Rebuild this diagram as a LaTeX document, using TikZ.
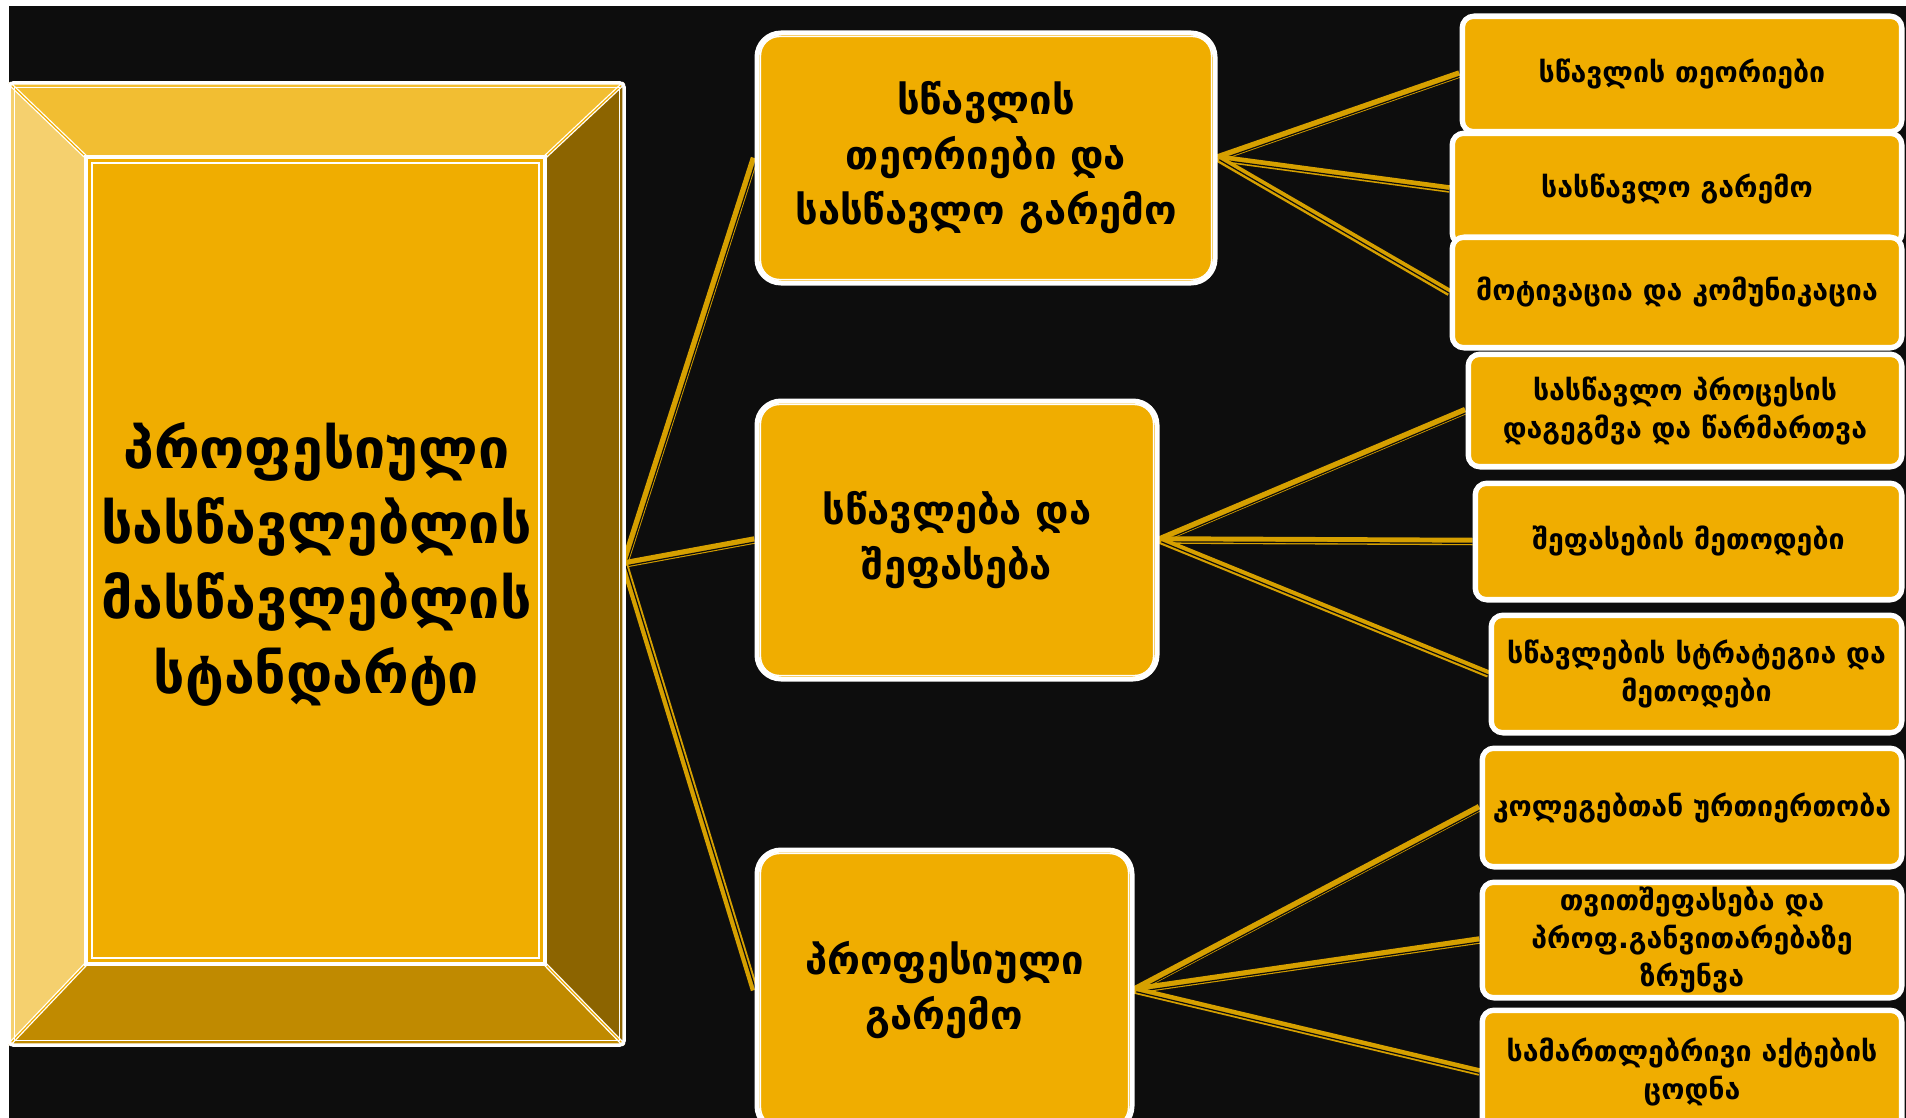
\documentclass[tikz,border=0pt]{standalone}
\usepackage{fontspec}
\setmainfont{DejaVu Sans}
\usetikzlibrary{calc}
\definecolor{bgblack}{HTML}{0D0D0D}
\definecolor{face}{HTML}{F0AD00}
\definecolor{bevtop}{HTML}{F2BE32}
\definecolor{bevleft}{HTML}{F5D06E}
\definecolor{bevright}{HTML}{8C6400}
\definecolor{bevbot}{HTML}{C08A00}
\definecolor{connc}{HTML}{D6A000}
\pgfdeclarelayer{back}
\pgfdeclarelayer{lines}
\pgfsetlayers{back,lines,main}
\tikzset{
  midbox/.style={rounded corners=24pt, fill=face, draw=white, line width=5pt, align=center, inner sep=0pt, font=\bfseries\fontsize{40}{55}\selectfont, text=black},
  smallbox/.style={rounded corners=12pt, fill=face, draw=white, line width=5pt, align=center, inner sep=0pt, font=\bfseries\fontsize{28.5}{38}\selectfont, text=black},
  inset/.style={draw=white, line width=1.4pt},
  connbase/.style={draw=connc, line width=7.5pt},
  connmid/.style={draw=bgblack, line width=1.2pt},
  bevline/.style={draw=white, line width=1.3pt, double=face, double distance=1.2pt},
}
\newcommand\insetbox[3]{\draw[inset, rounded corners=#2] ($(#1.north west)+(#3,#3)$) rectangle ($(#1.south east)+(-#3,-#3)$);}
\newcommand\conn[2]{\draw[connbase] (#1) -- (#2); \draw[connmid] ($(#1)+(1.8,1.8)$) -- ($(#2)+(1.8,1.8)$);}
\begin{document}
\begin{tikzpicture}[x=1pt,y=-1pt]
\useasboundingbox (0,0) rectangle (1906,1118);
\begin{pgfonlayer}{back}
\fill[white] (0,0) rectangle (1906,1118);
\fill[bgblack] (9,6) rectangle (1906,1118);
\end{pgfonlayer}
% bevelled big box
\fill[bevleft] (9,83) -- (86,157) -- (86,964) -- (9,1045) -- cycle;
\fill[bevtop] (9,83) -- (624,83) -- (545,157) -- (86,157) -- cycle;
\fill[bevright] (624,83) -- (624,1045) -- (545,964) -- (545,157) -- cycle;
\fill[bevbot] (9,1045) -- (624,1045) -- (545,964) -- (86,964) -- cycle;
\fill[face] (86,157) rectangle (545,964);
\draw[bevline] (9,83) -- (86,157);
\draw[bevline] (624,83) -- (545,157);
\draw[bevline] (624,1045) -- (545,964);
\draw[bevline] (9,1045) -- (86,964);
\draw[white, line width=3.5pt, rounded corners=4pt] (9,83) rectangle (624,1045);
\draw[white, line width=1pt] (14,88) rectangle (619,1040);
\draw[white, line width=4pt] (86,157) rectangle (545,964);
\draw[white, line width=1.3pt] (92,163) rectangle (539,958);

\node[align=center, inner sep=0pt, minimum width=615pt, minimum height=962pt, font=\bfseries\fontsize{55.5}{75}\selectfont, text=black] (big) at (316.5,564) {პროფესიული\\სასწავლებლის\\მასწავლებლის\\სტანდარტი};

\node[midbox, minimum width=458pt, minimum height=250pt] (A) at (986,158) {სწავლის\\თეორიები და\\სასწავლო გარემო};
\insetbox{A}{19pt}{6}
\node[midbox, minimum width=400pt, minimum height=278pt] (B) at (957,540) {სწავლება და\\შეფასება};
\insetbox{B}{19pt}{6}
\node[midbox, minimum width=375pt, minimum height=280pt] (C) at (944.5,990) {პროფესიული\\გარემო};
\insetbox{C}{19pt}{6}

\node[smallbox, minimum width=440pt, minimum height=116pt] (r1) at (1682,74) {სწავლის თეორიები};
\insetbox{r1}{8pt}{5}
\node[smallbox, minimum width=450pt, minimum height=112pt] (r2) at (1677,189) {სასწავლო გარემო};
\insetbox{r2}{8pt}{5}
\node[smallbox, minimum width=450pt, minimum height=111pt] (r3) at (1677,292.5) {მოტივაცია და კომუნიკაცია};
\insetbox{r3}{8pt}{5}
\node[smallbox, minimum width=434pt, minimum height=113pt] (r4) at (1685,410.5) {სასწავლო პროცესის\\დაგეგმვა და წარმართვა};
\insetbox{r4}{8pt}{5}
\node[smallbox, minimum width=427pt, minimum height=117pt] (r5) at (1688.5,541.5) {შეფასების მეთოდები};
\insetbox{r5}{8pt}{5}
\node[smallbox, minimum width=411pt, minimum height=118pt] (r6) at (1696.5,674) {სწავლების სტრატეგია და\\მეთოდები};
\insetbox{r6}{8pt}{5}
\node[smallbox, minimum width=420pt, minimum height=119pt] (r7) at (1692,807.5) {კოლეგებთან ურთიერთობა};
\insetbox{r7}{8pt}{5}
\node[smallbox, minimum width=420pt, minimum height=116pt] (r8) at (1692,940) {თვითშეფასება და\\პროფ.განვითარებაზე\\ზრუნვა};
\insetbox{r8}{8pt}{5}
\node[smallbox, minimum width=420pt, minimum height=124pt] (r9) at (1692,1072) {სამართლებრივი აქტების\\ცოდნა};
\insetbox{r9}{8pt}{5}

\begin{pgfonlayer}{lines}
\conn{big.east}{A.west}
\conn{big.east}{B.west}
\conn{big.east}{C.west}
\conn{A.east}{r1.west}
\conn{A.east}{r2.west}
\conn{A.east}{r3.west}
\conn{B.east}{r4.west}
\conn{B.east}{r5.west}
\conn{B.east}{r6.west}
\conn{C.east}{r7.west}
\conn{C.east}{r8.west}
\conn{C.east}{r9.west}
\end{pgfonlayer}
\end{tikzpicture}
\end{document}
